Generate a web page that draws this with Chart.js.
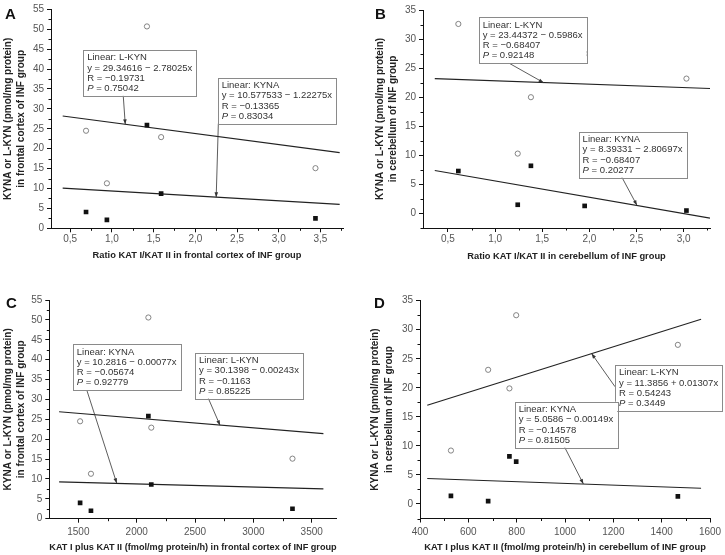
<!DOCTYPE html>
<html>
<head>
<meta charset="utf-8">
<script src="https://cdn.jsdelivr.net/npm/chart.js@4.4.0/dist/chart.umd.min.js"></script>
<style>
  html, body { margin: 0; padding: 0; background: #fff; }
  #wrap { position: relative; width: 725px; height: 555px; }
  canvas { position: absolute; }
</style>
</head>
<body>
<div id="wrap">
  <canvas id="cA" width="362" height="280" style="left:0;top:0"></canvas>
  <canvas id="cB" width="363" height="280" style="left:362px;top:0"></canvas>
  <canvas id="cC" width="362" height="275" style="left:0;top:280px"></canvas>
  <canvas id="cD" width="363" height="275" style="left:362px;top:280px"></canvas>
</div>
<script>
// --- values ---
// A: ratio KAT I/KAT II, frontal cortex
const ratioFrontal = [0.69, 0.94, 1.42, 1.59, 3.44];
const lkynA = [24.5, 11.3, 50.7, 22.9, 15.1];
const kynaA = [4.1, 2.1, 25.9, 8.7, 2.5];
const fitXA = [0.41, 3.73];
const fitLkynA = [28.2, 19.0];
const fitKynaA = [10.1, 6.0];

// B: ratio KAT I/KAT II, cerebellum
const ratioCereb = [0.61, 1.24, 1.38, 1.95, 3.03];
const lkynB = [32.6, 10.3, 20.0, 27.5, 23.2];
const kynaB = [7.3, 1.5, 8.2, 1.3, 0.5];
const fitXB = [0.36, 3.28];
const fitLkynB = [23.2, 21.5];
const fitKynaB = [7.4, -0.8];

// C: KAT I + KAT II, frontal cortex
const katFrontal = [1515, 1608, 2100, 2125, 3335];
const lkynC = [24.5, 11.3, 50.6, 22.9, 15.1];
const kynaC = [4.0, 2.0, 25.8, 8.6, 2.5];
const fitXC = [1335, 3600];
const fitLkynC = [26.9, 21.4];
const fitKynaC = [9.25, 7.5];

// D: KAT I + KAT II, cerebellum
const katCereb = [528, 682, 770, 798, 1467];
const lkynD = [9.2, 23.1, 19.9, 32.5, 27.4];
const kynaD = [1.4, 0.5, 8.2, 7.3, 1.3];
const fitXD = [430, 1563];
const fitLkynD = [17.0, 31.8];
const fitKynaD = [4.4, 2.7];

// tick labels
const yTicksFrontal = [0, 5, 10, 15, 20, 25, 30, 35, 40, 45, 50, 55];
const yTicksCereb = [0, 5, 10, 15, 20, 25, 30, 35];
const xTicksA = [0.5, 1.0, 1.5, 2.0, 2.5, 3.0, 3.5];
const xTicksB = [0.5, 1.0, 1.5, 2.0, 2.5, 3.0];
const xTicksC = [1500, 2000, 2500, 3000, 3500];
const xTicksD = [400, 600, 800, 1000, 1200, 1400, 1600];

// regression text boxes
const notesA = [
  ["Linear: L-KYN", "y = 29.34616 \u2212 2.78025x", "R = \u22120.19731", "0.75042"],
  ["Linear: KYNA", "y = 10.577533 \u2212 1.22275x", "R = \u22120.13365", "0.83034"]
];
const notesB = [
  ["Linear: L-KYN", "y = 23.44372 \u2212 0.5986x", "R = \u22120.68407", "0.92148"],
  ["Linear: KYNA", "y = 8.39331 \u2212 2.80697x", "R = \u22120.68407", "0.20277"]
];
const notesC = [
  ["Linear: KYNA", "y = 10.2816 \u2212 0.00077x", "R = \u22120.05674", "0.92779"],
  ["Linear: L-KYN", "y = 30.1398 \u2212 0.00243x", "R = \u22120.1163", "0.85225"]
];
const notesD = [
  ["Linear: L-KYN", "y = 11.3856 + 0.01307x", "R = 0.54243", "0.3449"],
  ["Linear: KYNA", "y = 5.0586 \u2212 0.00149x", "R = \u22120.14578", "0.81505"]
];

const F = "'Liberation Sans', Arial, sans-serif";
const comma = v => v.toFixed(1).replace('.', ',');
const range = (a, b, s) => { let r = []; for (let v = a; v <= b + 1e-9; v += s) r.push(+v.toFixed(4)); return r; };

function pts(xs, ys) { return xs.map((v, i) => ({ x: v, y: ys[i] })); }

function arrow(ctx, x0, y0, x1, y1) {
  ctx.beginPath(); ctx.moveTo(x0, y0); ctx.lineTo(x1, y1); ctx.stroke();
  const a = Math.atan2(y1 - y0, x1 - x0), L = 5, w = 1.8;
  ctx.beginPath();
  ctx.moveTo(x1, y1);
  ctx.lineTo(x1 - L * Math.cos(a) + w * Math.sin(a), y1 - L * Math.sin(a) - w * Math.cos(a));
  ctx.lineTo(x1 - L * Math.cos(a) - w * Math.sin(a), y1 - L * Math.sin(a) + w * Math.cos(a));
  ctx.closePath(); ctx.fill();
}

const extras = {
  id: 'extras',
  afterDraw(chart) {
    const p = chart.options.plugins.extras;
    const ctx = chart.ctx, xs = chart.scales.x, ys = chart.scales.y, ca = chart.chartArea;
    ctx.save();
    // minor ticks
    ctx.strokeStyle = '#111'; ctx.lineWidth = 1;
    ctx.beginPath();
    p.xMinor.forEach(v => { const px = Math.round(xs.getPixelForValue(v)) + 0.5; ctx.moveTo(px, ca.bottom); ctx.lineTo(px, ca.bottom + 2.5); });
    p.yMinor.forEach(v => { const py = Math.round(ys.getPixelForValue(v)) + 0.5; ctx.moveTo(ca.left, py); ctx.lineTo(ca.left - 2.5, py); });
    ctx.stroke();
    // panel letter
    ctx.fillStyle = '#111';
    ctx.font = "bold 15px " + F;
    ctx.textBaseline = 'alphabetic';
    ctx.fillText(p.letter, p.letterPos[0], p.letterPos[1]);
    // annotation boxes + arrows
    const fs = 9.5, lh = 10.3;
    p.boxes.forEach((b, k) => {
      const lines = p.notes[k];
      const left = xs.getPixelForValue(b.x), top = ys.getPixelForValue(b.y);
      ctx.font = fs + "px " + F;
      let w = 0;
      lines.forEach((t, i) => {
        let tw;
        if (i === 3) { ctx.font = "italic " + fs + "px " + F; tw = ctx.measureText("P").width; ctx.font = fs + "px " + F; tw += ctx.measureText(" = " + t).width; }
        else tw = ctx.measureText(t).width;
        w = Math.max(w, tw);
      });
      const bw = w + 8, bh = 4 * lh + 4.5;
      // arrow
      ctx.strokeStyle = '#333'; ctx.fillStyle = '#333'; ctx.lineWidth = 0.8;
      const ax0 = xs.getPixelForValue(b.ax0);
      const ay0 = b.ay0 === null ? top + bh : ys.getPixelForValue(b.ay0);
      arrow(ctx, ax0, ay0, xs.getPixelForValue(b.ax1), ys.getPixelForValue(b.ay1));
      // box
      ctx.fillStyle = '#fff';
      ctx.fillRect(left, top, bw, bh);
      ctx.strokeStyle = '#8a8a8a'; ctx.lineWidth = 1;
      ctx.strokeRect(Math.round(left) + 0.5, Math.round(top) + 0.5, Math.round(bw), Math.round(bh));
      ctx.fillStyle = '#333';
      lines.forEach((t, i) => {
        const by = top + 10.3 + i * lh, bx = left + 4;
        if (i === 3) {
          ctx.font = "italic " + fs + "px " + F;
          ctx.fillText("P", bx, by);
          const pw = ctx.measureText("P").width;
          ctx.font = fs + "px " + F;
          ctx.fillText(" = " + t, bx + pw, by);
        } else {
          ctx.font = fs + "px " + F;
          ctx.fillText(t, bx, by);
        }
      });
    });
    ctx.restore();
  }
};

function panel(id, p) {
  const canvas = document.getElementById(id);
  const W = canvas.width, H = canvas.height;
  const [aL, aT, aR, aB] = p.area;
  const gridOpts = { drawOnChartArea: false, tickLength: 4, tickColor: '#111', lineWidth: 1 };
  return new Chart(canvas, {
    type: 'scatter',
    data: {
      datasets: [
        { data: pts(p.x, p.kyna), pointStyle: 'rect', pointRadius: 3.3, backgroundColor: '#111', borderWidth: 0 },
        { data: pts(p.x, p.lkyn), pointStyle: 'circle', pointRadius: 2.6, backgroundColor: '#fff', borderColor: '#777', borderWidth: 0.9 },
        { data: pts(p.fitX, p.fitL), showLine: true, pointRadius: 0, borderColor: '#222', borderWidth: 1.1 },
        { data: pts(p.fitX, p.fitK), showLine: true, pointRadius: 0, borderColor: '#222', borderWidth: 1.1 }
      ]
    },
    options: {
      responsive: false,
      animation: false,
      devicePixelRatio: 1,
      layout: { padding: { left: 0, top: aT, right: W - aR, bottom: 0 } },
      plugins: {
        legend: { display: false },
        tooltip: { enabled: false },
        extras: p.extras
      },
      scales: {
        x: {
          type: 'linear', min: p.xMin, max: p.xMax,
          afterBuildTicks: s => { s.ticks = p.xTicks.map(v => ({ value: v })); },
          afterFit: s => { s.height = H - aB; },
          grid: gridOpts,
          border: { color: '#111', width: 1 },
          ticks: { color: '#555', font: { family: F, size: 10 }, padding: p.xTickPad, maxRotation: 0, autoSkip: false, callback: p.xFmt },
          title: { display: true, text: p.xTitle, color: '#222', font: { family: F, size: 9.3, weight: 'bold' }, padding: { top: 0, bottom: p.xTitlePad } }
        },
        y: {
          type: 'linear', min: p.yMin, max: p.yMax,
          afterBuildTicks: s => { s.ticks = p.yTicks.map(v => ({ value: v })); },
          afterFit: s => { s.width = aL; },
          grid: gridOpts,
          border: { color: '#111', width: 1 },
          ticks: { color: '#555', font: { family: F, size: 10 }, padding: 3, autoSkip: false, callback: v => String(v) },
          title: { display: true, text: p.yTitle, color: '#222', font: { family: F, size: 10, weight: 'bold', lineHeight: 1.35 }, padding: { top: p.yTitlePad, bottom: 0 } }
        }
      }
    },
    plugins: [extras]
  });
}

panel('cA', {
  area: [51, 9.3, 343, 228.3],
  x: ratioFrontal, lkyn: lkynA, kyna: kynaA, fitX: fitXA, fitL: fitLkynA, fitK: fitKynaA,
  xMin: 0.27, xMax: 3.77, yMin: 0, yMax: 55,
  xTicks: xTicksA, yTicks: yTicksFrontal, xFmt: comma, xTickPad: 1,
  xTitle: "Ratio KAT I/KAT II in frontal cortex of INF group", xTitlePad: 19.4,
  yTitle: ["KYNA or L-KYN (pmol/mg protein)", "in frontal cortex of INF group"], yTitlePad: 1.3,
  extras: {
    letter: 'A', letterPos: [5, 18.5],
    xMinor: range(0.75, 3.75, 0.5), yMinor: range(2.5, 52.5, 5),
    notes: notesA,
    boxes: [
      { x: 0.656, y: 44.8, ax0: 1.136, ay0: null, ax1: 1.16, ay1: 26.1 },
      { x: 2.268, y: 37.8, ax0: 2.276, ay0: null, ax1: 2.25, ay1: 7.8 }
    ]
  }
});

panel('cB', {
  area: [61, 10, 348, 228],
  x: ratioCereb, lkyn: lkynB, kyna: kynaB, fitX: fitXB, fitL: fitLkynB, fitK: fitKynaB,
  xMin: 0.235, xMax: 3.28, yMin: -2.5, yMax: 35,
  xTicks: xTicksB, yTicks: yTicksCereb, xFmt: comma, xTickPad: 1.5,
  xTitle: "Ratio KAT I/KAT II in cerebellum of INF group", xTitlePad: 18.4,
  yTitle: ["KYNA or L-KYN (pmol/mg protein)", "in cerebellum of INF group"], yTitlePad: 11,
  extras: {
    letter: 'B', letterPos: [13, 18.5],
    xMinor: range(0.75, 3.25, 0.5), yMinor: range(-2.5, 32.5, 5),
    notes: notesB,
    boxes: [
      { x: 0.826, y: 33.75, ax0: 1.144, ay0: null, ax1: 1.515, ay1: 22.5 },
      { x: 1.886, y: 14.07, ax0: 2.346, ay0: null, ax1: 2.505, ay1: 1.4 }
    ]
  }
});

panel('cC', {
  area: [49.3, 20, 336.7, 238.7],
  x: katFrontal, lkyn: lkynC, kyna: kynaC, fitX: fitXC, fitL: fitLkynC, fitK: fitKynaC,
  xMin: 1251, xMax: 3714, yMin: 0, yMax: 55,
  xTicks: xTicksC, yTicks: yTicksFrontal, xFmt: v => String(v), xTickPad: 3.5,
  xTitle: "KAT I plus KAT II (fmol/mg protein/h) in frontal cortex of INF group", xTitlePad: 2,
  yTitle: ["KYNA or L-KYN (pmol/mg protein)", "in frontal cortex of INF group"], yTitlePad: 1.3,
  extras: {
    letter: 'C', letterPos: [6, 27.5],
    xMinor: range(1750, 3250, 500), yMinor: range(2.5, 52.5, 5),
    notes: notesC,
    boxes: [
      { x: 1452, y: 43.86, ax0: 1572, ay0: null, ax1: 1829, ay1: 8.9 },
      { x: 2500, y: 41.75, ax0: 2614, ay0: null, ax1: 2714, ay1: 23.5 }
    ]
  }
});

panel('cD', {
  area: [58, 20.7, 348, 238.5],
  x: katCereb, lkyn: lkynD, kyna: kynaD, fitX: fitXD, fitL: fitLkynD, fitK: fitKynaD,
  xMin: 400, xMax: 1600, yMin: -2.5, yMax: 35,
  xTicks: xTicksD, yTicks: yTicksCereb, xFmt: v => String(v), xTickPad: 3.5,
  xTitle: "KAT I plus KAT II (fmol/mg protein/h) in cerebellum of INF group", xTitlePad: 2,
  yTitle: ["KYNA or L-KYN (pmol/mg protein)", "in cerebellum of INF group"], yTitlePad: 6.5,
  extras: {
    letter: 'D', letterPos: [12, 27.5],
    xMinor: range(500, 1500, 200), yMinor: range(-2.5, 32.5, 5),
    notes: notesD,
    boxes: [
      { x: 1207, y: 23.93, ax0: 1207, ay0: 20.19, ax1: 1110, ay1: 25.9 },
      { x: 791.6, y: 17.61, ax0: 999, ay0: null, ax1: 1076, ay1: 3.45 }
    ]
  }
});
</script>
</body>
</html>
